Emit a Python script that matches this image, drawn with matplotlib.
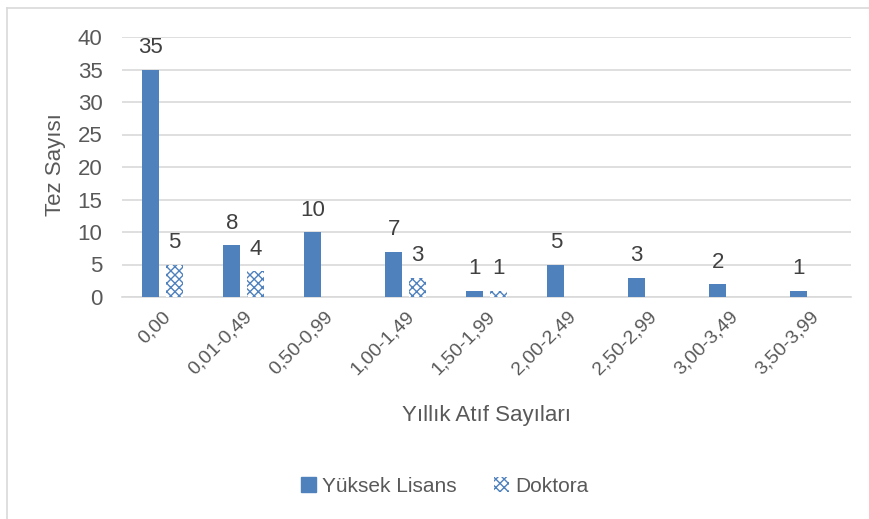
import matplotlib
matplotlib.use("Agg")
import matplotlib.pyplot as plt
import numpy as np
from matplotlib.lines import Line2D
from matplotlib.patches import Patch

categories = ["0,00", "0,01-0,49", "0,50-0,99", "1,00-1,49", "1,50-1,99",
              "2,00-2,49", "2,50-2,99", "3,00-3,49", "3,50-3,99"]
yuksek_lisans = [35, 8, 10, 7, 1, 5, 3, 2, 1]
doktora = [5, 4, 0, 3, 1, 0, 0, 0, 0]
y_ticks = [0, 5, 10, 15, 20, 25, 30, 35, 40]

plt.rcParams['font.family'] = ['Liberation Sans Narrow', 'Liberation Sans', 'DejaVu Sans']
plt.rcParams['hatch.linewidth'] = 1.0

W, H = 869, 519
fig = plt.figure(figsize=(W/100, H/100), dpi=100)
ax = fig.add_axes([122/W, 1-297/H, (851-122)/W, (297-37)/H])

blue = '#4F81BD'
text_c = '#595959'
x = np.arange(len(categories))
bw = 0.21
off = 0.145
ax.bar(x - off, yuksek_lisans, bw, color=blue, zorder=3)
ax.bar(x + off, doktora, bw, facecolor='white', edgecolor=blue, hatch='xxxx', linewidth=0, zorder=3)

for xi, v in zip(x - off, yuksek_lisans):
    if v:
        ax.text(xi, v + 1.7, str(v), ha='center', va='bottom', fontsize=16, color='#404040')
for xi, v in zip(x + off, doktora):
    if v:
        ax.text(xi, v + 1.7, str(v), ha='center', va='bottom', fontsize=16, color='#404040')

ax.set_xlim(-0.5, len(categories) - 0.5)
ax.set_ylim(0, 40)
ax.set_yticks(y_ticks)
ax.set_yticklabels([str(t) for t in y_ticks], fontsize=16, color=text_c)
ax.set_xticks(x)
ax.set_xticklabels(categories, rotation=45, ha='right', rotation_mode='anchor', fontsize=14, color=text_c)
ax.tick_params(axis='both', length=0)
ax.tick_params(axis='y', pad=14)
ax.tick_params(axis='x', pad=8)
ax.grid(axis='y', color='#D9D9D9', linewidth=1.2, zorder=0)
for s in ['top', 'right', 'left']:
    ax.spines[s].set_visible(False)
ax.spines['bottom'].set_color('#D9D9D9')
ax.spines['bottom'].set_linewidth(1.2)

fig.text(56/W, 1-165/H, "Tez Sayısı", rotation=90, ha='center', va='center', fontsize=16, color=text_c)
fig.text(487/W, 1-415/H, "Yıllık Atıf Sayıları", ha='center', va='center', fontsize=16, color=text_c)

handles = [Patch(facecolor=blue, edgecolor=blue),
           Patch(facecolor='white', edgecolor=blue, hatch='xxxx', linewidth=0)]
fig.legend(handles, ["Yüksek Lisans", "Doktora"], loc='center', bbox_to_anchor=(445/W, 1-486/H),
           ncol=2, frameon=False, fontsize=15, labelcolor=text_c, handlelength=0.7, handleheight=0.7,
           columnspacing=1.8, handletextpad=0.3)

fig.add_artist(Line2D([7/W, 7/W], [0, 1-8/H], color='#D9D9D9', linewidth=1.2, transform=fig.transFigure))
fig.add_artist(Line2D([7/W, 1], [1-8/H, 1-8/H], color='#D9D9D9', linewidth=1.2, transform=fig.transFigure))

fig.savefig("out.png", dpi=100)
